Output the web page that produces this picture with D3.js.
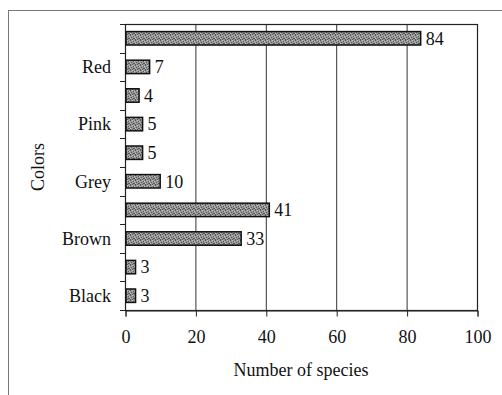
<!DOCTYPE html>
<html><head><meta charset="utf-8">
<script src="https://cdn.jsdelivr.net/npm/d3@7"></script>
<style>body{margin:0;background:#fff;} svg{display:block;}</style>
</head><body><svg id="c" width="502" height="395"></svg>
<script>
// bottom to top
const categories = ["Black","Blue","Brown","Green","Grey","Orange","Pink","Purple","Red","Yellow"];
const shownLabels = ["Black","Brown","Grey","Pink","Red"];
const values = [3,3,33,41,10,5,5,4,7,84];
const xTicks = [0,20,40,60,80,100];

const svg = d3.select("#c");
const font = "Liberation Serif, Times New Roman, serif";
const fs = 18;
const L=125, R=477, T=24, B=310;

// outer frame
svg.append("rect").attr("x",8.5).attr("y",10.5).attr("width",700).attr("height",600)
  .attr("fill","none").attr("stroke","#777").attr("stroke-width",1);

const defs = svg.append("defs");
const pat = defs.append("pattern").attr("id","tex").attr("patternUnits","userSpaceOnUse")
  .attr("width",5).attr("height",5);
pat.append("rect").attr("width",5).attr("height",5).attr("fill","#999");
[[0,0],[3,1],[1,2],[4,3],[2,4],[3,3],[0,4]].forEach(([a,b])=>pat.append("rect").attr("x",a).attr("y",b).attr("width",1).attr("height",1).attr("fill","#555"));
[[2,0],[4,1],[0,3]].forEach(([a,b])=>pat.append("rect").attr("x",a).attr("y",b).attr("width",1).attr("height",1).attr("fill","#c4c4c4"));

const x = d3.scaleLinear().domain([0,100]).range([L,R]);
const y = d3.scaleBand().domain(categories.slice().reverse()).range([T,B]).paddingInner(0.53).paddingOuter(0.265);

// gridlines
svg.append("g").selectAll("line").data(xTicks.slice(1,-1)).join("line")
  .attr("x1",d=>x(d)+0.5).attr("x2",d=>x(d)+0.5).attr("y1",T).attr("y2",B)
  .attr("stroke","#333").attr("stroke-width",1);

// plot border
svg.append("rect").attr("x",L+0.5).attr("y",T+0.5).attr("width",R-L).attr("height",B-T)
  .attr("fill","none").attr("stroke","#222").attr("stroke-width",1.2);

// x axis
const xa = svg.append("g").attr("transform",`translate(0.5,${B+0.5})`)
  .call(d3.axisBottom(x).tickValues(xTicks).tickSize(6).tickPadding(14).tickFormat(d3.format("d")));
xa.select(".domain").attr("stroke","#222");
xa.selectAll(".tick line").attr("stroke","#222");
xa.selectAll("text").attr("font-family",font).attr("font-size",fs).attr("fill","#111");

// y ticks at band boundaries
const bounds = d3.range(categories.length+1).map(i=>T+i*(B-T)/categories.length);
svg.append("g").selectAll("line").data(bounds).join("line")
  .attr("x1",L-5).attr("x2",L).attr("y1",d=>Math.round(d)+0.5).attr("y2",d=>Math.round(d)+0.5)
  .attr("stroke","#222");

// y labels
svg.append("g").selectAll("text").data(categories.filter(c=>shownLabels.includes(c))).join("text")
  .attr("x",111).attr("y",d=>y(d)+y.bandwidth()/2).attr("dy","0.35em")
  .attr("text-anchor","end").attr("font-family",font).attr("font-size",fs).attr("fill","#111")
  .text(d=>d);

// bars
const data = categories.map((c,i)=>({c,v:values[i]}));
svg.append("g").selectAll("rect").data(data).join("rect")
  .attr("x",x(0)+1).attr("y",d=>y(d.c)).attr("width",d=>x(d.v)-x(0)-1).attr("height",y.bandwidth())
  .attr("fill","url(#tex)").attr("stroke","#111").attr("stroke-width",1.5);

// value labels
svg.append("g").selectAll("text").data(data).join("text")
  .attr("x",d=>x(d.v)+5).attr("y",d=>y(d.c)+y.bandwidth()/2).attr("dy","0.35em")
  .attr("font-family",font).attr("font-size",fs).attr("fill","#111").text(d=>d.v);

// axis titles
svg.append("text").attr("x",(L+R)/2).attr("y",376).attr("text-anchor","middle")
  .attr("font-family",font).attr("font-size",fs).attr("fill","#111").text("Number of species");
svg.append("text").attr("transform",`translate(44,${(T+B)/2}) rotate(-90)`).attr("text-anchor","middle")
  .attr("font-family",font).attr("font-size",fs).attr("fill","#111").text("Colors");
</script></body></html>
